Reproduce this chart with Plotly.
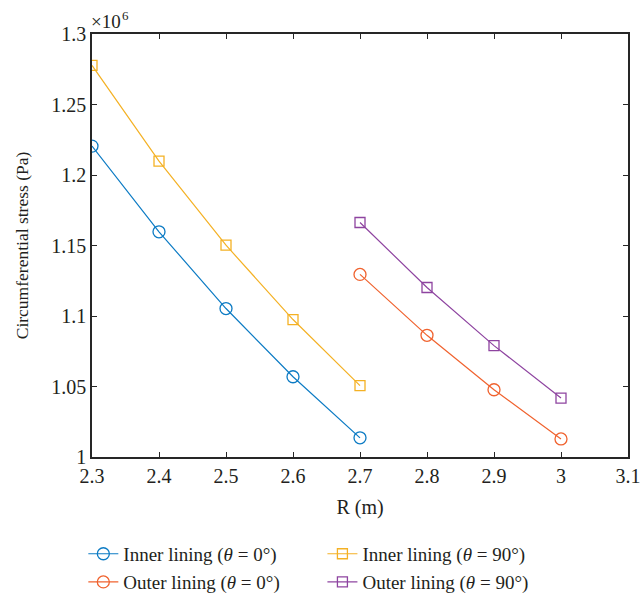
import plotly.graph_objects as go

# Radius positions (m)
r_inner = [2.3, 2.4, 2.5, 2.6, 2.7]
r_outer = [2.7, 2.8, 2.9, 3.0]

# Circumferential stress in units of 1e6 Pa
inner_0 = [1.2205, 1.1597, 1.1053, 1.0569, 1.0136]
inner_90 = [1.2777, 1.2098, 1.1502, 1.0975, 1.0506]
outer_0 = [1.1295, 1.0863, 1.0477, 1.0128]
outer_90 = [1.1663, 1.1202, 1.0790, 1.0418]

x_ticks = [2.3, 2.4, 2.5, 2.6, 2.7, 2.8, 2.9, 3.0, 3.1]
x_ticktext = ["2.3", "2.4", "2.5", "2.6", "2.7", "2.8", "2.9", "3", "3.1"]
y_ticks = [1.0, 1.05, 1.1, 1.15, 1.2, 1.25, 1.3]
y_ticktext = ["1", "1.05", "1.1", "1.15", "1.2", "1.25", "1.3"]

FONT = "Liberation Serif, Times New Roman, serif"
TEXT_COLOR = "#231f20"
AXIS_COLOR = "#262626"

# name, x, y, colour, marker, marker size, legend id
series = [
    ("Inner lining (<i>θ</i> = 0°)", r_inner, inner_0, "#0C7BC4", "circle-open", 12, "legend"),
    ("Inner lining (<i>θ</i> = 90°)", r_inner, inner_90, "#F4B124", "square-open", 10, "legend2"),
    ("Outer lining (<i>θ</i> = 0°)", r_outer, outer_0, "#F0622E", "circle-open", 12, "legend3"),
    ("Outer lining (<i>θ</i> = 90°)", r_outer, outer_90, "#8E44A0", "square-open", 10, "legend4"),
]

fig = go.Figure()
for name, xs, ys, color, symbol, size, leg in series:
    fig.add_trace(go.Scatter(
        x=xs, y=ys, name=name, mode="lines+markers", legend=leg,
        line=dict(color=color, width=1.2),
        marker=dict(symbol=symbol, size=size, color=color,
                    line=dict(color=color, width=1.3)),
    ))

axis_common = dict(
    showline=True, linecolor=AXIS_COLOR, linewidth=1.6, mirror="ticks",
    ticks="inside", ticklen=5, tickcolor=AXIS_COLOR, tickwidth=1,
    showgrid=False, zeroline=False, automargin=False,
    tickfont=dict(family=FONT, size=20, color=TEXT_COLOR),
)

fig.update_xaxes(
    range=[2.3, 3.1], tickvals=x_ticks, ticktext=x_ticktext,
    title=dict(text="R (m)", font=dict(family=FONT, size=20, color=TEXT_COLOR), standoff=14),
    **axis_common,
)
fig.update_yaxes(
    range=[1.0, 1.3], tickvals=y_ticks, ticktext=y_ticktext,
    title=dict(text="Circumferential stress (Pa)", font=dict(family=FONT, size=17.5, color=TEXT_COLOR), standoff=18),
    **axis_common,
)

# Multiplier label for the y axis (base and exponent placed separately)
fig.add_annotation(
    x=0, y=1, xref="paper", yref="paper", xanchor="left", yanchor="bottom",
    text="×10", showarrow=False, yshift=0, xshift=-3,
    font=dict(family=FONT, size=19, color=TEXT_COLOR),
)
fig.add_annotation(
    x=0, y=1, xref="paper", yref="paper", xanchor="left", yanchor="bottom",
    text="6", showarrow=False, yshift=9, xshift=28,
    font=dict(family=FONT, size=13, color=TEXT_COLOR),
)

def legend_box(x, y):
    return dict(
        xref="container", yref="container", x=x, y=y,
        xanchor="left", yanchor="top", orientation="h",
        font=dict(family=FONT, size=19, color=TEXT_COLOR),
        itemwidth=30, bgcolor="rgba(0,0,0,0)",
    )

fig.update_layout(
    width=641, height=599,
    margin=dict(l=92, r=13, t=34, b=142),
    paper_bgcolor="white", plot_bgcolor="white",
    font=dict(family=FONT, color=TEXT_COLOR),
    showlegend=True,
    legend=legend_box(0.130, 0.107),
    legend2=legend_box(0.503, 0.107),
    legend3=legend_box(0.130, 0.060),
    legend4=legend_box(0.503, 0.060),
)

fig.write_html("out.html")
